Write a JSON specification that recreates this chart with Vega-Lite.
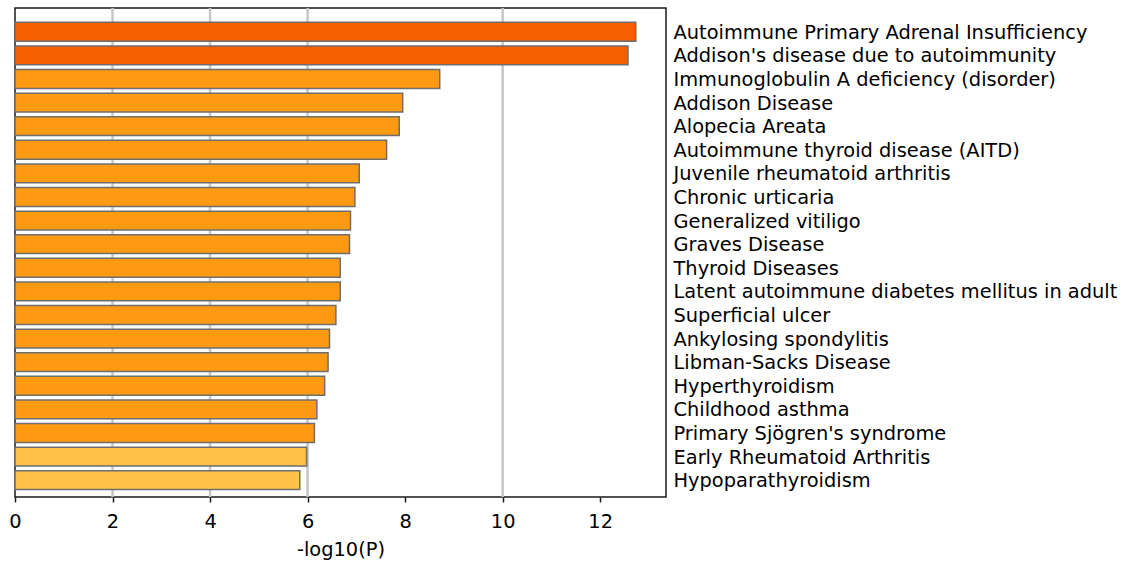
{
  "$schema": "https://vega.github.io/schema/vega-lite/v6.json",
  "autosize": {"type": "none"},
  "width": 651,
  "height": 489,
  "padding": {"left": 15, "top": 8, "right": 468, "bottom": 70},
  "background": "white",
  "config": {
    "font": "DejaVu Sans",
    "view": {"stroke": "#1a1a1a", "strokeWidth": 1.5},
    "axis": {"labelFont": "DejaVu Sans", "titleFont": "DejaVu Sans", "labelColor": "#000000", "titleColor": "#000000"}
  },
  "datasets": {
    "terms": [
      {"term": "Autoimmune Primary Adrenal Insufficiency", "logp": 12.73, "tier": "high"},
      {"term": "Addison's disease due to autoimmunity", "logp": 12.57, "tier": "high"},
      {"term": "Immunoglobulin A deficiency (disorder)", "logp": 8.71, "tier": "mid"},
      {"term": "Addison Disease", "logp": 7.95, "tier": "mid"},
      {"term": "Alopecia Areata", "logp": 7.88, "tier": "mid"},
      {"term": "Autoimmune thyroid disease (AITD)", "logp": 7.62, "tier": "mid"},
      {"term": "Juvenile rheumatoid arthritis", "logp": 7.06, "tier": "mid"},
      {"term": "Chronic urticaria", "logp": 6.97, "tier": "mid"},
      {"term": "Generalized vitiligo", "logp": 6.88, "tier": "mid"},
      {"term": "Graves Disease", "logp": 6.86, "tier": "mid"},
      {"term": "Thyroid Diseases", "logp": 6.67, "tier": "mid"},
      {"term": "Latent autoimmune diabetes mellitus in adult", "logp": 6.67, "tier": "mid"},
      {"term": "Superficial ulcer", "logp": 6.58, "tier": "mid"},
      {"term": "Ankylosing spondylitis", "logp": 6.45, "tier": "mid"},
      {"term": "Libman-Sacks Disease", "logp": 6.42, "tier": "mid"},
      {"term": "Hyperthyroidism", "logp": 6.35, "tier": "mid"},
      {"term": "Childhood asthma", "logp": 6.19, "tier": "mid"},
      {"term": "Primary Sjögren's syndrome", "logp": 6.14, "tier": "mid"},
      {"term": "Early Rheumatoid Arthritis", "logp": 5.98, "tier": "low"},
      {"term": "Hypoparathyroidism", "logp": 5.84, "tier": "low"}
    ],
    "guides": [{"g": 2}, {"g": 4}, {"g": 6}, {"g": 10}]
  },
  "layer": [
    {
      "data": {"name": "guides"},
      "mark": {"type": "rule", "color": "#c6c6c6", "strokeWidth": 2.5},
      "encoding": {
        "x": {"field": "g", "type": "quantitative", "scale": {"domain": [0, 13.35], "nice": false, "zero": true}}
      }
    },
    {
      "data": {"name": "terms"},
      "mark": {"type": "bar", "stroke": "#6e6e6e", "strokeWidth": 1.5},
      "encoding": {
        "y": {
          "field": "term",
          "type": "nominal",
          "sort": null,
          "scale": {"paddingInner": 0.2, "paddingOuter": 0.46, "align": 0.66},
          "axis": {
            "orient": "right",
            "title": null,
            "ticks": false,
            "domain": false,
            "labelPadding": 7,
            "labelFontSize": 19.4,
            "labelLimit": 600,
            "labelAlign": "left",
            "labelOffset": 1
          }
        },
        "x": {
          "field": "logp",
          "type": "quantitative",
          "scale": {"domain": [0, 13.35], "nice": false, "zero": true},
          "axis": {
            "title": "-log10(P)",
            "values": [0, 2, 4, 6, 8, 10, 12],
            "grid": false,
            "domain": false,
            "tickColor": "#1a1a1a",
            "tickWidth": 1.5,
            "tickSize": 5,
            "labelPadding": 10,
            "labelFontSize": 19.4,
            "titleFontSize": 19.4,
            "titleFontWeight": "normal",
            "titlePadding": 10,
            "labelFlush": false
          }
        },
        "fill": {
          "field": "tier",
          "type": "nominal",
          "scale": {"domain": ["high", "mid", "low"], "range": ["#f55f00", "#fe9912", "#ffc146"]},
          "legend": null
        }
      }
    }
  ]
}
